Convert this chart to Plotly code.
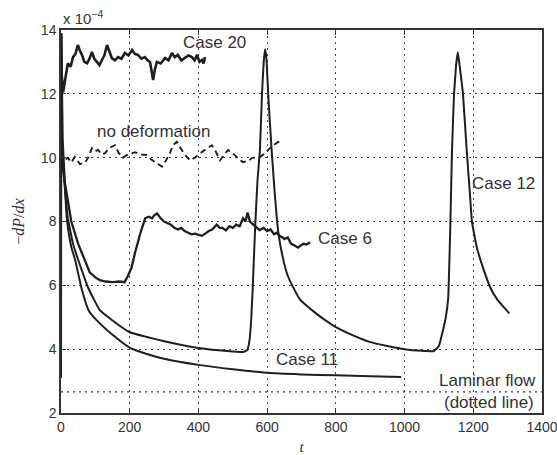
import plotly.graph_objects as go

# ---------------- data (values in units of 1e-4) ----------------
case20_t = [0, 2, 6, 12, 20, 28, 35, 42, 49, 55, 61, 68, 76, 83, 90, 97, 105, 112, 119, 126, 134, 141,
            148, 157, 166, 176, 186, 196, 207, 215, 224, 234, 244, 252, 259, 264, 268, 273, 279, 290,
            303, 313, 323, 331, 340, 350, 361, 371, 381, 389, 396, 403, 410, 415, 419]
case20_y = [13.9, 12.6, 12.05, 12.5, 12.96, 12.85, 13.15, 13.25, 13.53, 13.35, 13.22, 13.0, 12.96, 13.1,
            13.31, 13.1, 13.0, 12.9, 13.06, 13.2, 13.53, 13.3, 13.12, 13.05, 13.15, 13.1, 13.28, 13.2,
            13.37, 13.25, 13.22, 13.1, 13.15, 13.05, 13.0, 12.7, 12.43, 12.75, 13.0, 12.95, 13.12, 13.05,
            13.28, 13.15, 13.22, 13.05, 13.12, 13.2, 13.15, 13.05, 13.22, 13.0, 13.06, 12.95, 13.15]

nodef_t = [3, 10, 20, 30, 40, 55, 70, 79, 90, 100, 108, 118, 128, 140, 157, 168, 180, 195, 215, 235,
           250, 262, 274, 294, 305, 317, 326, 337, 346, 360, 375, 390, 405, 420, 439, 450, 463, 475,
           486, 506, 518, 530, 545, 556, 579, 595, 608, 620, 632, 642]
nodef_y = [10.14, 9.9, 10.0, 9.85, 10.02, 9.8, 9.85, 10.0, 10.3, 10.2, 10.24, 10.1, 10.14, 10.3, 10.39,
           10.15, 10.0, 10.1, 10.17, 10.1, 10.08, 9.95, 9.86, 9.72, 9.9, 10.14, 10.39, 10.5, 10.33, 10.1,
           9.92, 10.0, 10.14, 10.25, 10.39, 10.2, 9.92, 10.1, 10.24, 10.08, 9.95, 9.86, 9.9, 9.99, 10.02,
           10.15, 10.3, 10.4, 10.49, 10.5]

case6_t = [0, 3, 10, 20, 30, 50, 70, 84, 100, 113, 130, 150, 170, 185, 195, 205, 215, 230, 245, 255,
           265, 272, 280, 290, 300, 310, 320, 330, 340, 350, 360, 370, 380, 390, 400, 410, 420, 430,
           440, 453, 462, 470, 480, 490, 500, 510, 520, 530, 537, 543, 550, 555, 565, 578, 590, 600,
           610, 620, 628, 636, 645, 650, 660, 670, 680, 690, 698, 705, 715, 725]
case6_y = [13.9, 10.0, 9.3, 8.6, 8.0, 7.3, 6.8, 6.4, 6.25, 6.16, 6.12, 6.1, 6.12, 6.1, 6.3, 6.55, 7.0,
           7.6, 8.1, 8.15, 8.1, 8.2, 8.25, 8.1, 8.0, 7.95, 7.9, 7.8, 7.75, 7.8, 7.7, 7.65, 7.6, 7.62,
           7.58, 7.55, 7.62, 7.7, 7.75, 7.9, 7.8, 7.8, 7.72, 7.85, 7.8, 7.9, 7.85, 8.1, 8.0, 8.28, 8.0,
           7.95, 7.85, 7.73, 7.8, 7.7, 7.75, 7.6, 7.65, 7.55, 7.5, 7.45, 7.5, 7.3, 7.25, 7.18, 7.25,
           7.3, 7.28, 7.35]

case11_t = [0, 1, 5, 10, 17, 30, 41, 60, 80, 100, 150, 200, 250, 300, 405, 500, 600, 700, 800, 900, 990]
case11_y = [3.1, 13.9, 10.6, 9.5, 8.1, 7.2, 6.8, 5.9, 5.22, 4.95, 4.45, 4.05, 3.85, 3.7, 3.5, 3.37,
            3.26, 3.21, 3.18, 3.15, 3.13]

case12_t = [0, 3, 10, 20, 35, 50, 80, 113, 150, 200, 250, 300, 400, 500, 530, 542, 549, 554, 558, 565,
            572, 579, 585, 590, 594, 598, 603, 608, 614, 622, 632, 645, 660, 680, 696, 733, 770, 800,
            850, 900, 950, 1000, 1050, 1085, 1100, 1112, 1120, 1127, 1133, 1138, 1144, 1150, 1155,
            1160, 1170, 1181, 1190, 1196, 1210, 1230, 1249, 1270, 1290, 1305]
case12_y = [13.9, 10.3, 9.2, 8.1, 7.3, 6.8, 5.9, 5.22, 4.9, 4.53, 4.38, 4.25, 4.04, 3.93, 3.91, 3.97,
            4.3, 5.0, 5.9, 7.8, 9.3, 10.24, 12.0, 13.0, 13.4, 13.1, 12.0, 11.1, 10.1, 8.9, 7.7, 6.9,
            6.3, 5.85, 5.55, 5.2, 4.9, 4.69, 4.43, 4.22, 4.1, 4.0, 3.95, 3.94, 4.1, 4.6, 5.0, 5.6, 7.8,
            10.2, 12.0, 12.9, 13.3, 12.9, 12.0, 10.2, 8.9, 8.0, 7.2, 6.5, 5.94, 5.55, 5.3, 5.12]

laminar_t = [0, 1400]
laminar_y = [2.66, 2.66]

x_ticks = [0, 200, 400, 600, 800, 1000, 1200, 1400]
y_ticks = [2, 4, 6, 8, 10, 12, 14]

# ---------------- figure ----------------
LC = "#1e1e1e"
SANS = "Liberation Sans, Arial, sans-serif"
fig = go.Figure()
fig.add_trace(go.Scatter(x=laminar_t, y=laminar_y, mode="lines",
                         line=dict(color="#333", width=1.2, dash="2px,4px")))
fig.add_trace(go.Scatter(x=case11_t, y=case11_y, mode="lines",
                         line=dict(color=LC, width=2, shape="spline", smoothing=0.6)))
fig.add_trace(go.Scatter(x=case12_t, y=case12_y, mode="lines",
                         line=dict(color=LC, width=2, shape="spline", smoothing=0.3)))
fig.add_trace(go.Scatter(x=case6_t, y=case6_y, mode="lines", line=dict(color=LC, width=2.3)))
fig.add_trace(go.Scatter(x=nodef_t, y=nodef_y, mode="lines", line=dict(color=LC, width=1.9, dash="6px,4px")))
fig.add_trace(go.Scatter(x=case20_t, y=case20_y, mode="lines", line=dict(color=LC, width=2.6)))

TXT = dict(family=SANS, size=17, color="#333")
def label(x, y, text, xanchor="left"):
    fig.add_annotation(x=x, y=y, text=text, showarrow=False, xanchor=xanchor, yanchor="middle",
                       font=TXT, borderpad=0)

label(352, 13.62, "Case 20")
label(102, 10.83, "no deformation")
label(745, 7.48, "Case 6")
label(1193, 9.2, "Case 12")
label(623, 3.69, "Case 11")
label(1385, 3.03, "Laminar flow", xanchor="right")
label(1380, 2.34, "(dotted line)", xanchor="right")

fig.add_annotation(xref="paper", yref="paper", x=0, y=1.0, xanchor="left", yanchor="bottom",
                   text="x 10<sup>−4</sup>", showarrow=False, yshift=1,
                   font=dict(family=SANS, size=15, color="#333"))

AX = dict(showline=True, linecolor="#333", linewidth=1.5, mirror="ticks", ticks="inside",
          ticklen=5, tickcolor="#333", showgrid=True, gridcolor="#444", gridwidth=1,
          griddash="2px,4px", zeroline=False, automargin=False, ticklabeloverflow="allow",
          tickfont=dict(family=SANS, size=14, color="#333"))

fig.update_xaxes(range=[0, 1400], tickvals=x_ticks, ticktext=[str(v) for v in x_ticks],
                 title=dict(text="<i>t</i>", standoff=8,
                            font=dict(family="Liberation Serif, serif", size=15, color="#333")), **AX)
fig.update_yaxes(range=[2, 14], tickvals=y_ticks, ticktext=[str(v) for v in y_ticks],
                 title=dict(text="−<i>dP</i>/<i>dx</i>", standoff=12,
                            font=dict(family="Liberation Serif, serif", size=16, color="#333")), **AX)

fig.update_layout(width=557, height=455, margin=dict(l=61, r=15, t=30, b=42),
                  plot_bgcolor="white", paper_bgcolor="white", showlegend=False)

fig.write_html("out.html")
